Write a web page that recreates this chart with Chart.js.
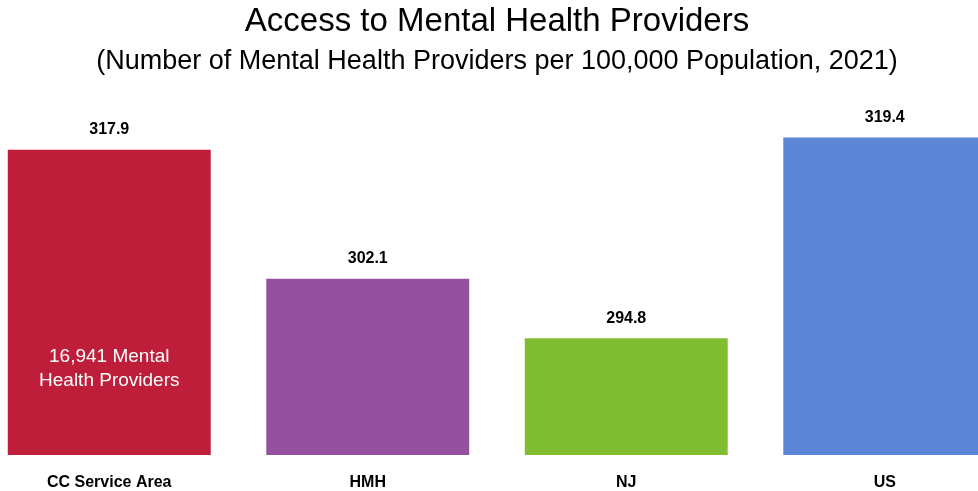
<!DOCTYPE html>
<html>
<head>
<meta charset="utf-8">
<script src="https://cdn.jsdelivr.net/npm/chart.js@4.4.1/dist/chart.umd.min.js"></script>
<style>
    html, body { margin: 0; padding: 0; background: #fff; overflow: hidden; }
    #wrap { position: absolute; left: -20px; top: 0; width: 1034px; height: 491px; }
</style>
</head>
<body>
<div id="wrap"><canvas id="barChart" width="1034" height="491"></canvas></div>
<script>
// ==========================================
// Data
// ==========================================
const categories = ["CC Service Area", "HMH", "NJ", "US"];
const providerRates = [317.9, 302.1, 294.8, 319.4];
const barColors = ["#BE1E3A", "#93519E", "#80BD32", "#5B85D5"];
const noteLines = ["16,941 Mental", "Health Providers"];

const narrow = "'Liberation Sans Narrow', 'Arial Narrow', 'Liberation Sans', Arial, sans-serif";
const regular = "'Liberation Sans', Arial, sans-serif";

// ==========================================
// Value labels + note inside first bar
// ==========================================
const barLabels = {
    id: "barLabels",
    afterDatasetsDraw(chart) {
        const ctx = chart.ctx;
        const bars = chart.getDatasetMeta(0).data;
        ctx.save();
        ctx.textAlign = "center";
        ctx.textBaseline = "middle";
        ctx.fillStyle = "#000";
        ctx.font = "bold 16px " + narrow;
        bars.forEach((bar, i) => {
            ctx.fillText(providerRates[i].toFixed(1), bar.x, bar.y - 20);
        });

        // note in the CC bar
        const first = bars[0];
        ctx.fillStyle = "#fff";
        ctx.font = "19px " + regular;
        ctx.fillText(noteLines[0], first.x, 357);
        ctx.fillText(noteLines[1], first.x, 381);
        ctx.restore();
    }
};

new Chart(document.getElementById("barChart").getContext("2d"), {
    type: "bar",
    data: {
        labels: categories,
        datasets: [{
            data: providerRates,
            backgroundColor: barColors,
            borderWidth: 0,
            barPercentage: 0.785,
            categoryPercentage: 1
        }]
    },
    options: {
        responsive: false,
        animation: false,
        layout: { padding: 0 },
        plugins: {
            legend: { display: false },
            tooltip: { enabled: false },
            title: {
                display: true,
                text: "Access to Mental Health Providers",
                color: "#000",
                font: { family: regular, size: 33, weight: "normal" },
                padding: { top: 2, bottom: 2 }
            },
            subtitle: {
                display: true,
                text: "(Number of Mental Health Providers per 100,000 Population, 2021)",
                color: "#000",
                font: { family: regular, size: 27, weight: "normal" },
                padding: { top: 2, bottom: 22 }
            }
        },
        scales: {
            x: {
                grid: { display: false },
                border: { display: false },
                ticks: {
                    color: "#000",
                    padding: 10,
                    font: { family: narrow, size: 16, weight: "bold" }
                },
                afterFit(scale) {
                    scale.height = 36;
                }
            },
            y: {
                display: false,
                min: 280.5,
                max: 324
            }
        }
    },
    plugins: [barLabels]
});
</script>
</body>
</html>
